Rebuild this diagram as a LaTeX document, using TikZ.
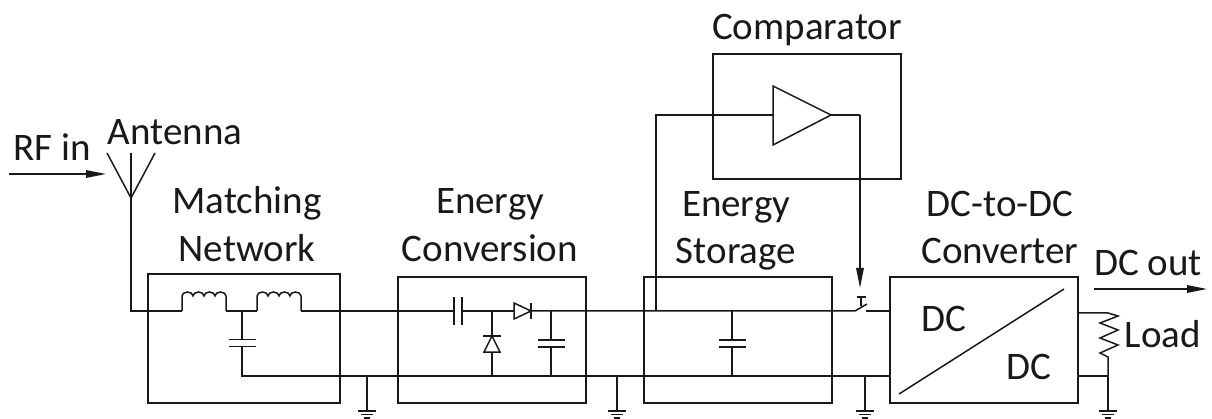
\documentclass[tikz,border=0pt]{standalone}
\usepackage{fontspec}
\setmainfont{Carlito}
\usetikzlibrary{arrows.meta}
\tikzset{
  x=1pt,y=-1pt,
  wire/.style={line width=1.5pt,black!90,line join=miter},
  blk/.style={draw=black!90,line width=1.6pt,rectangle,inner sep=0pt,outer sep=0pt,anchor=north west},
  lbl/.style={font=\fontsize{39}{46}\selectfont,anchor=base,inner sep=0pt,text=black!90},
  flow/.style={wire,-{Triangle[length=20pt,width=7.5pt]}},
  pics/grnd/.style={code={
    \draw[wire] (-9,0)--(9,0);
    \draw[wire] (-6,3.5)--(6,3.5);
    \draw[wire] (-3,7)--(3,7);
  }},
  pics/capv/.style={code={
    \draw[wire] (-13.5,0)--(13.5,0);
    \draw[wire] (-13.5,7)--(13.5,7);
  }},
  pics/indc/.style={code={
    \draw[wire] (0,19) -- (0,4) arc[start angle=180,end angle=0,x radius=5.5pt,y radius=4pt]
      arc[start angle=180,end angle=0,x radius=5.5pt,y radius=4pt]
      arc[start angle=180,end angle=0,x radius=5.5pt,y radius=4pt]
      arc[start angle=180,end angle=0,x radius=5.5pt,y radius=4pt] -- (44,19);
  }},
}
\begin{document}
\begin{tikzpicture}
\useasboundingbox (0,0) rectangle (1212,419);
% blocks
\node[blk,minimum width=192pt,minimum height=129pt] (mn) at (148,274) {};
\node[blk,minimum width=188pt,minimum height=126pt] (ec) at (398,277) {};
\node[blk,minimum width=188pt,minimum height=126pt] (es) at (644,277) {};
\node[blk,minimum width=188pt,minimum height=126pt] (dc) at (890,277) {};
\node[blk,minimum width=188pt,minimum height=125pt] (cm) at (713,54) {};
% labels
\node[lbl] (trf) at (52,161) {RF in};
\node[lbl] (tan) at (175,145) {Antenna};
\node[lbl] (tma) at (247,214) {Matching};
\node[lbl] (tne) at (247,262) {Network};
\node[lbl] (tee) at (490,214) {Energy};
\node[lbl] (tco) at (490,262) {Conversion};
\node[lbl] (tes) at (736,217) {Energy};
\node[lbl] (tst) at (736,264) {Storage};
\node[lbl] (tdd) at (1000,217) {DC-to-DC};
\node[lbl] (tcv) at (1000,264) {Converter};
\node[lbl] (tcm) at (807,40) {Comparator};
\node[lbl] (tdo) at (1148,276) {DC out};
\node[lbl] (td1) at (944,332) {DC};
\node[lbl] (td2) at (1029,379) {DC};
\node[lbl] (tld) at (1163,348) {Load};
% named points
\coordinate (anttip) at (131,198);
\coordinate (anttop) at (131,153);
\coordinate (antl) at (107,153);
\coordinate (antr) at (155,153);
\coordinate (rfs) at (9,174);
\coordinate (rfe) at (106,174);
\coordinate (l1a) at (182,311);
\coordinate (l1b) at (226,311);
\coordinate (l2a) at (257,311);
\coordinate (l2b) at (301,311);
\coordinate (mc) at (242,311);
\coordinate (cs1) at (454,311);
\coordinate (cs2) at (462,311);
\coordinate (dsh) at (492,311);
\coordinate (dsa) at (514,311);
\coordinate (dsc) at (531,311);
\coordinate (cc) at (551,311);
\coordinate (sc) at (732,311);
\coordinate (fb) at (656,311);
\coordinate (fbt) at (656,115);
\coordinate (swa) at (855,311);
\coordinate (swb) at (866,311);
\coordinate (swe) at (890,311);
\coordinate (bs) at (242,376);
\coordinate (be) at (890,376);
\coordinate (g1) at (367,376);
\coordinate (g2) at (617,376);
\coordinate (g3) at (865,376);
\coordinate (oa) at (773,115);
\coordinate (ob) at (831,115);
\coordinate (oc) at (860,115);
\coordinate (od) at (860,288);
\coordinate (dco1) at (1078,313);
\coordinate (dco2) at (1078,376);
\coordinate (lt) at (1108,313);
\coordinate (lb) at (1108,357);
\coordinate (lj) at (1108,376);
\coordinate (g4) at (1108,411);
% antenna
\draw[wire] (antl)--(anttip)--(antr);
\draw[wire] (anttop)--(anttip)--(131,311)--(l1a);
\draw[flow] (rfs)--(rfe);
% matching
\pic at (182,292) {indc};
\pic at (257,292) {indc};
\draw[wire] (l1b)--(l2a);
\draw[wire] (l2b)--(cs1);
\draw[wire] (mc)--(242,339);
\pic at (242,339.5) {capv};
\draw[wire] (242,346.5)--(bs)--(be);
% conversion
\draw[wire] (454,297)--(454,325);
\draw[wire] (462,297)--(462,325);
\draw[wire] (cs2)--(dsa);
\draw[wire] (514,303)--(514,319)--(dsc)--cycle;
\draw[wire] (531,303)--(531,319);
\draw[wire] (dsc)--(swa)--(867,304);
\draw[wire] (swb)--(swe);
\draw[wire] (dsh)--(492,336);
\draw[wire] (483,336)--(501,336);
\draw[wire] (492,336)--(484,352)--(500,352)--cycle;
\draw[wire] (492,352)--(492,376);
\draw[wire] (cc)--(551,340);
\pic at (551,340) {capv};
\draw[wire] (551,347)--(551,376);
% storage
\draw[wire] (sc)--(732,340);
\pic at (732,340) {capv};
\draw[wire] (732,347)--(732,376);
% comparator
\draw[wire] (fb)--(fbt)--(oa);
\draw[wire,fill=white] (773,86)--(ob)--(773,145)--cycle;
\draw[wire] (ob)--(oc);
\draw[flow] (oc)--(od);
% switch actuator
\draw[wire] (856.5,297)--(865.5,297);
\draw[wire] (861,297)--(861,306);
% grounds
\draw[wire] (g1)--(367,411);
\pic at (367,411) {grnd};
\draw[wire] (g2)--(617,411);
\pic at (617,411) {grnd};
\draw[wire] (g3)--(865,411);
\pic at (865,411) {grnd};
% DC converter
\draw[wire] (899,394)--(1064,289);
\draw[flow] (1094,289)--(1207,289);
\draw[wire] (dco1)--(lt)--(1118,316)--(1100,323)--(1118,330)--(1100,338)--(1118,345)--(1100,353)--(lb)--(lj);
\draw[wire] (dco2)--(lj)--(g4);
\pic at (g4) {grnd};
\end{tikzpicture}
\end{document}
